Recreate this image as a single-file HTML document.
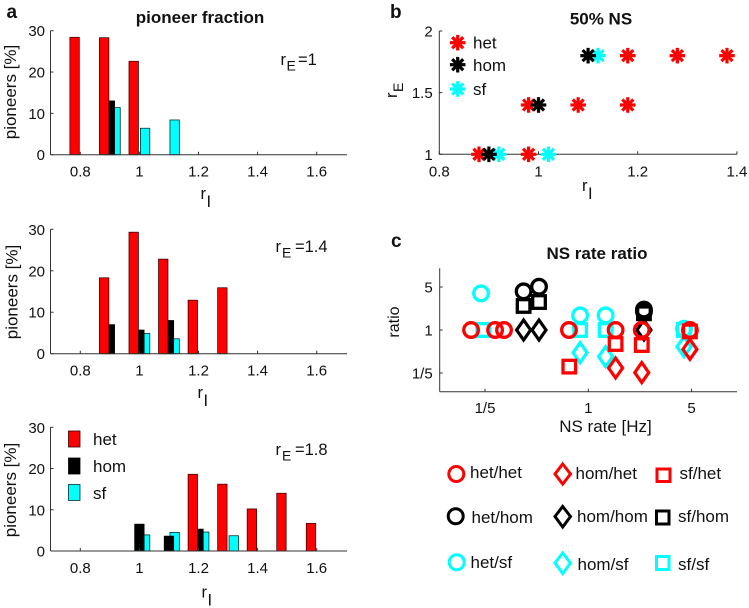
<!DOCTYPE html>
<html lang="en">
<head>
<meta charset="utf-8">
<title>Pioneer fraction, 50% NS and NS rate ratio</title>
<style>
html,body{margin:0;padding:0;background:#fff;}
svg{display:block;filter:blur(0.35px);}
text{font-family:"Liberation Sans",sans-serif;font-size:15px;fill:#111;}
.bold{font-weight:bold;}
.sub{font-size:14px;}
.big{font-size:16.5px;}
.leg{font-size:17px;}
.title{font-weight:bold;font-size:17px;}
.letter{font-weight:bold;font-size:19px;}
</style>
</head>
<body>
<svg id="fig" width="749" height="608" viewBox="0 0 749 608" xmlns="http://www.w3.org/2000/svg">
  <rect x="0" y="0" width="749" height="608" fill="#fff"/>

  <text class="letter" x="6.5" y="18">a</text>
  <text class="letter" x="390" y="18">b</text>
  <text class="letter" x="391" y="247">c</text>

  <text class="title" x="200" y="23" text-anchor="middle">pioneer fraction</text>
  <text class="title" x="601" y="24.5" text-anchor="middle">50% NS</text>
  <text class="title" x="597" y="259" text-anchor="middle">NS rate ratio</text>

  <g id="bars1"></g>
  <g id="bars2"></g>
  <g id="bars3"></g>

  <text class="big" x="280.5" y="65">r</text>
  <text class="sub" x="286.5" y="70.5">E</text>
  <text class="big" x="298" y="65">=1</text>
  <text class="big" x="275.5" y="252">r</text>
  <text class="sub" x="282" y="257.5">E</text>
  <text class="big" x="295" y="252">=1.4</text>
  <text class="big" x="275.5" y="455">r</text>
  <text class="sub" x="282" y="460.5">E</text>
  <text class="big" x="295" y="455">=1.8</text>

  <g>
    <rect x="68.5" y="431" width="11.5" height="16" fill="#f00" stroke="#300" stroke-width="0.8"/>
    <text class="leg" x="93" y="445">het</text>
    <rect x="68.5" y="458" width="11.5" height="16" fill="#000" stroke="#000" stroke-width="0.8"/>
    <text class="leg" x="93" y="472">hom</text>
    <rect x="68.5" y="484.5" width="11.5" height="16" fill="#0ff" stroke="#033" stroke-width="0.8"/>
    <text class="leg" x="93" y="499">sf</text>
  </g>

  <g id="panelB"></g>
  <g>
    <text class="leg" x="473" y="48.5">het</text>
    <text class="leg" x="473" y="71">hom</text>
    <text class="leg" x="473" y="95">sf</text>
  </g>
  <text class="big" x="582" y="191">r</text>
  <text class="big" x="588" y="199">I</text>
  <text class="big" transform="translate(397,98) rotate(-90)">r</text>
  <text class="sub" transform="translate(403,92) rotate(-90)">E</text>

  <g id="panelC"></g>
  <text x="605.5" y="432" text-anchor="middle" style="font-size:17px">NS rate [Hz]</text>
  <text text-anchor="middle" transform="translate(399,322) rotate(-90)" style="font-size:16px">ratio</text>

  <g fill="none" stroke-width="3">
    <circle cx="456.3" cy="474" r="7.5" stroke="#f00"/>
    <text class="leg" x="470" y="478">het/het</text>
    <path d="M562.7 464 L570.5 474 L562.7 484 L555 474 Z" stroke="#f00"/>
    <text class="leg" x="575.5" y="479">hom/het</text>
    <rect x="657" y="469" width="13" height="12.5" stroke="#f00"/>
    <text class="leg" x="679.5" y="479">sf/het</text>

    <circle cx="455.7" cy="516.3" r="7.5" stroke="#000"/>
    <text class="leg" x="471.5" y="523">het/hom</text>
    <path d="M562.7 506.5 L570.5 516.5 L562.7 527 L555 516.5 Z" stroke="#000"/>
    <text class="leg" x="577" y="522">hom/hom</text>
    <rect x="656.5" y="511" width="12.5" height="13" stroke="#000"/>
    <text class="leg" x="678" y="522">sf/hom</text>

    <circle cx="456.7" cy="562.3" r="7.5" stroke="#0ff"/>
    <text class="leg" x="470.5" y="568">het/sf</text>
    <path d="M562.7 553 L570.5 563 L562.7 573.5 L555 563 Z" stroke="#0ff"/>
    <text class="leg" x="577.5" y="570">hom/sf</text>
    <rect x="656.5" y="556.5" width="12.5" height="13" stroke="#0ff"/>
    <text class="leg" x="678" y="570">sf/sf</text>
  </g>
</svg>

<script>
// Panel a data
const rICategories = [0.8, 0.9, 1.0, 1.1, 1.2, 1.3, 1.4, 1.5, 1.6];
const rITicks = [0.8, 1, 1.2, 1.4, 1.6];
const rITickLabels = ['0.8', '1', '1.2', '1.4', '1.6'];
const pioneerTicks = [0, 10, 20, 30];
const rE1Het = [28.4, 28.3, 22.6, 0, 0, 0, 0, 0, 0];
const rE1Hom = [0, 13, 0, 0, 0, 0, 0, 0, 0];
const rE1Sf = [0, 11.4, 6.4, 8.4, 0, 0, 0, 0, 0];
const rE14Het = [0, 18.3, 29.3, 22.8, 12.9, 15.9, 0, 0, 0];
const rE14Hom = [0, 7, 5.7, 8, 0, 0, 0, 0, 0];
const rE14Sf = [0, 0, 4.9, 3.6, 0, 0, 0, 0, 0];
const rE18Het = [0, 0, 0, 0, 18.6, 16.2, 10.2, 14, 6.7];
const rE18Hom = [0, 0, 6.5, 3.6, 5.3, 0, 0, 0, 0];
const rE18Sf = [0, 0, 3.9, 4.5, 4.6, 3.7, 0, 0, 0];

// Panel b data
const nsHetRI = [0.88, 0.98, 0.98, 1.08, 1.18, 1.18, 1.28, 1.38];
const nsHetRE = [1, 1, 1.4, 1.4, 1.4, 1.8, 1.8, 1.8];
const nsHomRI = [0.9, 1.0, 1.1];
const nsHomRE = [1, 1.4, 1.8];
const nsSfRI = [0.92, 1.02, 1.12];
const nsSfRE = [1, 1, 1.8];
const nsXTicks = [0.8, 1, 1.2, 1.4];
const nsXTickLabels = ['0.8', '1', '1.2', '1.4'];
const nsYTicks = [1, 1.5, 2];
const nsYTickLabels = ['1', '1.5', '2'];

// Panel c data
const hetSfRate = [0.188, 0.88, 1.31, 4.44];
const hetSfRatio = [3.94, 1.73, 1.73, 1.05];
const sfSfRate = [0.195, 0.88, 1.31, 4.44];
const sfSfRatio = [1, 1, 1, 1];
const homSfRate = [0.88, 1.31, 4.44];
const homSfRatio = [0.428, 0.369, 0.536];
const hetHomRate = [0.365, 0.464, 2.38, 2.38];
const hetHomRatio = [4.25, 5.05, 2.0, 2.15];
const sfHomRate = [0.365, 0.464, 2.38];
const sfHomRatio = [2.46, 2.85, 1.87];
const homHomRate = [0.365, 0.464, 2.38];
const homHomRatio = [1, 1, 1];
const hetHetRate = [0.161, 0.234, 0.269, 0.74, 1.53, 2.30, 4.87];
const hetHetRatio = [1, 1, 1, 1, 1, 1, 1];
const sfHetRate = [0.744, 1.53, 2.30, 4.87];
const sfHetRatio = [0.254, 0.592, 0.57, 0.95];
const homHetRate = [1.53, 2.30, 4.87];
const homHetRatio = [0.241, 0.203, 0.485];
const logTicks = [0.2, 1, 5];
const logTickLabels = ['1/5', '1', '5'];

const NS = 'http://www.w3.org/2000/svg';
const AXIS = '#333';

function add(parent, tag, attrs, txt) {
  const el = document.createElementNS(NS, tag);
  for (const k in attrs) el.setAttribute(k, attrs[k]);
  if (txt !== undefined) el.textContent = txt;
  parent.appendChild(el);
  return el;
}
function axisLine(parent, name, x1, y1, x2, y2) {
  const el = add(parent, 'line', {x1: x1, y1: y1, x2: x2, y2: y2, stroke: AXIS, 'stroke-width': 1});
  
  
}
function tickText(parent, name, x, y, anchor, s) {
  const el = add(parent, 'text', {x: x, y: y, 'text-anchor': anchor}, s);
  
  
}

// ---------- Bar panels ----------
const xBar = r => 80.3 + (r - 0.8) * 295.5;
const OFFSET = 0.0193, BARW = 9.4;

function barSeries(g, yOf, cats, vals, off, fill, edge, name) {
  cats.forEach((c, i) => {
    if (!(vals[i] > 0)) return;
    const cx = xBar(c + off);
    const r = add(g, 'rect', {x: cx - BARW / 2, y: yOf(vals[i]), width: BARW, height: yOf(0) - yOf(vals[i]), fill: fill, stroke: edge, 'stroke-width': 0.8});
    
    
  });
}
function barPanel(id, top, zero, het, hom, sf, xLabelX, xLabelY, tickY, yTitleX, yTitleY) {
  const g = document.getElementById(id);
  const yOf = v => zero - v / 30 * (zero - top);
  barSeries(g, yOf, rICategories, sf, OFFSET, '#0ff', '#033', 'bar-sf');
  barSeries(g, yOf, rICategories, hom, 0, '#000', '#000', 'bar-hom');
  barSeries(g, yOf, rICategories, het, -OFFSET, '#f00', '#400', 'bar-het');
  axisLine(g, 'x-axis', 50.5, zero, 347, zero);
  axisLine(g, 'y-axis', 50.5, top, 50.5, zero);
  rITicks.forEach((t, i) => {
    axisLine(g, 'x-tick', xBar(t), zero, xBar(t), zero - 3);
    tickText(g, 'x-tick-label', xBar(t), tickY, 'middle', rITickLabels[i]);
  });
  pioneerTicks.forEach(t => {
    axisLine(g, 'y-tick', 50.5, yOf(t), 53.5, yOf(t));
    tickText(g, 'y-tick-label', 45, yOf(t) + 5.5, 'end', String(t));
  });
  const xt = add(g, 'text', {x: xLabelX, y: xLabelY, class: 'big'}, 'r');
  
  
  const xs = add(g, 'text', {x: xLabelX + 6, y: xLabelY + 8, class: 'big'}, 'I');
  
  
  const yt = add(g, 'text', {'text-anchor': 'middle', style: 'font-size:17px', transform: 'translate(' + yTitleX + ',' + yTitleY + ') rotate(-90)'}, 'pioneers [%]');
  
  
}
barPanel('bars1', 30.7, 154.7, rE1Het, rE1Hom, rE1Sf, 200.5, 199, 176.7, 16, 92);
barPanel('bars2', 229.3, 353.7, rE14Het, rE14Hom, rE14Sf, 197.5, 398, 375.7, 17.5, 292);
barPanel('bars3', 427.3, 551, rE18Het, rE18Hom, rE18Sf, 201.5, 597.5, 573, 16, 490);

// ---------- Panel b ----------
const pb = document.getElementById('panelB');
const xB = r => 439.3 + (r - 0.8) * 496;
const yB = e => 154.3 - (e - 1) * 123.3;

axisLine(pb, 'x-axis', 439.3, yB(1), 737, yB(1));
axisLine(pb, 'y-axis', 439.3, yB(2), 439.3, yB(1));
nsXTicks.forEach((t, i) => {
  axisLine(pb, 'x-tick', xB(t), yB(1), xB(t), yB(1) - 3);
  tickText(pb, 'x-tick-label', xB(t), 176.7, 'middle', nsXTickLabels[i]);
});
nsYTicks.forEach((t, i) => {
  axisLine(pb, 'y-tick', 439.3, yB(t), 442.3, yB(t));
  tickText(pb, 'y-tick-label', 432.7, yB(t) + 5.5, 'end', nsYTickLabels[i]);
});
function star(parent, cx, cy, color, name) {
  const g = add(parent, 'g', {stroke: color, 'stroke-width': 3.2, 'stroke-linecap': 'butt'});
  
  
  const R = 7.8;
  [0, 45, 90, 135].forEach(a => {
    const dx = R * Math.cos(a * Math.PI / 180), dy = R * Math.sin(a * Math.PI / 180);
    add(g, 'line', {x1: cx - dx, y1: cy - dy, x2: cx + dx, y2: cy + dy});
  });
}
nsSfRI.forEach((r, i) => star(pb, xB(r), yB(nsSfRE[i]), '#0ff', 'point-sf'));
nsHetRI.forEach((r, i) => star(pb, xB(r), yB(nsHetRE[i]), '#f00', 'point-het'));
nsHomRI.forEach((r, i) => star(pb, xB(r), yB(nsHomRE[i]), '#000', 'point-hom'));
star(pb, 457.7, 42.7, '#f00', 'star-legend-marker-het');
star(pb, 457.7, 64.7, '#000', 'star-legend-marker-hom');
star(pb, 457.7, 89, '#0ff', 'star-legend-marker-sf');

// ---------- Panel c ----------
const pc = document.getElementById('panelC');
const log5 = v => Math.log(v) / Math.log(5);
const xC = v => 588.3 + 103.3 * log5(v);
const yC = v => 330 - 43 * log5(v);

axisLine(pc, 'x-axis', 439.7, 391.7, 737, 391.7);
axisLine(pc, 'y-axis', 439.7, 268.3, 439.7, 391.7);
logTicks.forEach((t, i) => {
  axisLine(pc, 'x-tick', xC(t), 391.7, xC(t), 388.7);
  tickText(pc, 'x-tick-label', xC(t), 413, 'middle', logTickLabels[i]);
  axisLine(pc, 'y-tick', 439.7, yC(t), 442.7, yC(t));
  tickText(pc, 'y-tick-label', 432.7, yC(t) + 5.5, 'end', logTickLabels[i]);
});
function circles(xs, ys, color, name) {
  xs.forEach((v, i) => {
    const el = add(pc, 'circle', {cx: xC(v), cy: yC(ys[i]), r: 7.3, fill: 'none', stroke: color, 'stroke-width': 3.3});
    
    
  });
}
function squares(xs, ys, color, name) {
  xs.forEach((v, i) => {
    const el = add(pc, 'rect', {x: xC(v) - 6.3, y: yC(ys[i]) - 6.3, width: 12.6, height: 12.6, fill: 'none', stroke: color, 'stroke-width': 3.3});
    
    
  });
}
function diamonds(xs, ys, color, name) {
  xs.forEach((v, i) => {
    const cx = xC(v), cy = yC(ys[i]);
    const d = 'M' + cx + ' ' + (cy - 10) + ' L' + (cx + 7) + ' ' + cy + ' L' + cx + ' ' + (cy + 10) + ' L' + (cx - 7) + ' ' + cy + ' Z';
    const el = add(pc, 'path', {d: d, fill: 'none', stroke: color, 'stroke-width': 3.2});
    
    
  });
}
circles(hetSfRate, hetSfRatio, '#0ff', 'point-het-sf');
squares(sfSfRate, sfSfRatio, '#0ff', 'point-sf-sf');
diamonds(homSfRate, homSfRatio, '#0ff', 'point-hom-sf');
circles(hetHomRate, hetHomRatio, '#000', 'point-het-hom');
squares(sfHomRate, sfHomRatio, '#000', 'point-sf-hom');
diamonds(homHomRate, homHomRatio, '#000', 'point-hom-hom');
circles(hetHetRate, hetHetRatio, '#f00', 'point-het-het');
squares(sfHetRate, sfHetRatio, '#f00', 'point-sf-het');
diamonds(homHetRate, homHetRatio, '#f00', 'point-hom-het');
</script>
</body>
</html>
